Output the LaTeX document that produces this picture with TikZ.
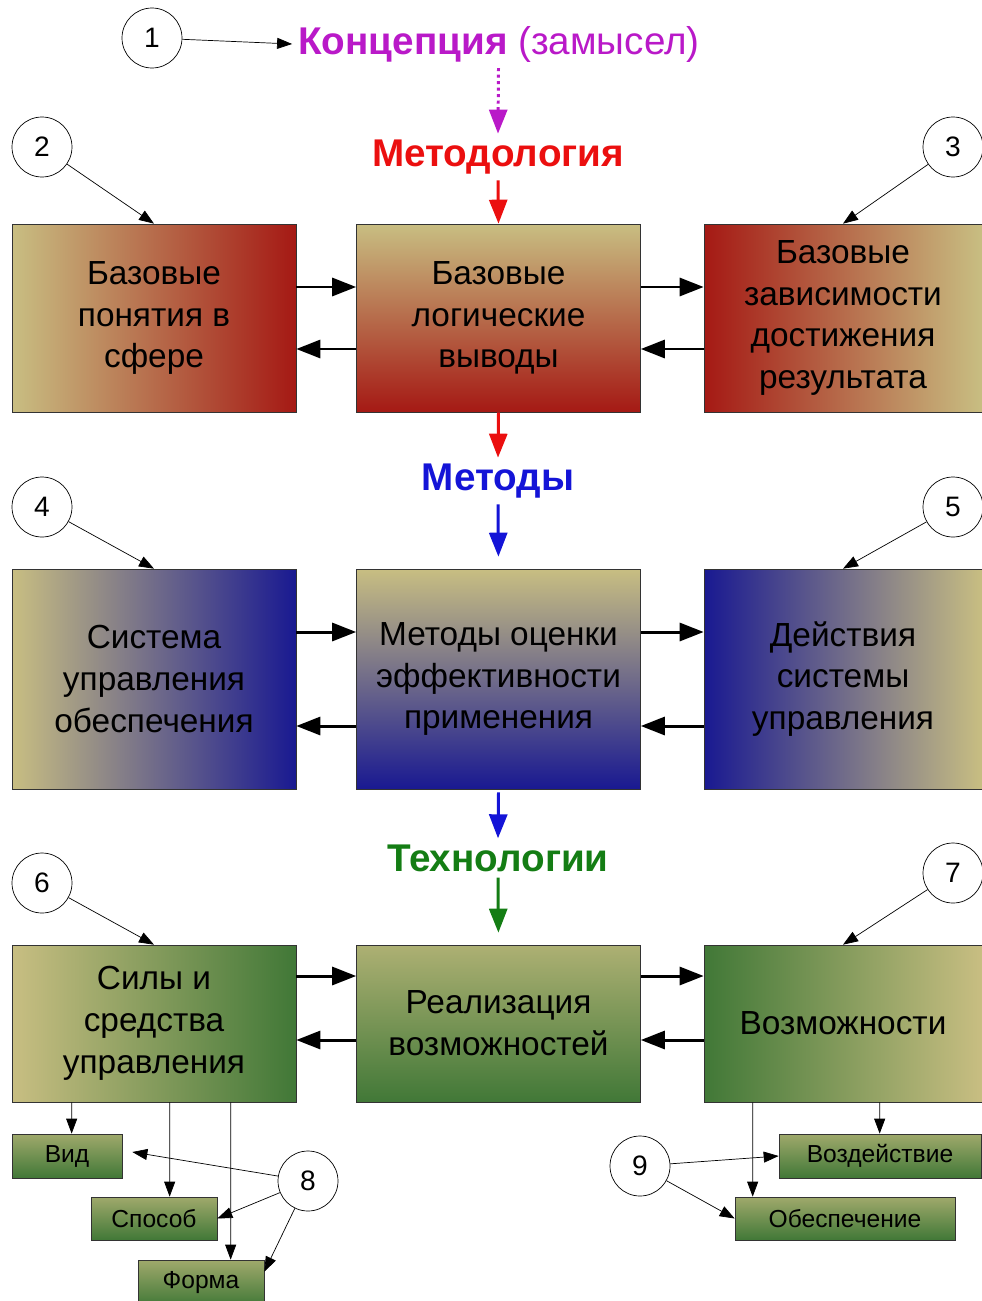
\documentclass[tikz,border=0pt]{standalone}
\usepackage{fontspec}
\setmainfont{Liberation Sans}
\usetikzlibrary{calc,arrows.meta}
\newcommand{\pixel}{0.02cm}
\definecolor{khaki}{RGB}{200,190,130}
\definecolor{boxred}{RGB}{165,25,20}
\definecolor{boxblue}{RGB}{25,25,145}
\definecolor{boxgreen}{RGB}{65,120,55}
\definecolor{conceptpurple}{RGB}{185,25,200}
\definecolor{methodred}{RGB}{235,15,15}
\definecolor{methodblue}{RGB}{20,20,215}
\definecolor{methodgreen}{RGB}{20,125,20}
\tikzset{
	block/.style={draw=black!80, thin, align=center, inner sep=0pt, font=\fontsize{19}{23.8}\selectfont},
	side/.style={block, minimum width=5.68cm},
	sideright/.style={block, minimum width=5.56cm},
	small/.style={draw=black!80, thin, inner sep=0pt, font=\fontsize{14}{14}\selectfont,
		top color=khaki!70!boxgreen, bottom color=boxgreen},
	heading/.style={font=\fontsize{22}{26}\selectfont\bfseries},
	num/.style={circle, draw, thin, minimum size=1.2cm, inner sep=0pt, font=\fontsize{16}{16}\selectfont},
	flow/.style={-{Triangle[length=0.48cm,width=0.36cm]}, line width=1.7pt},
	pointer/.style={-{Triangle[length=0.3cm,width=0.22cm]}, thin}
}

\begin{document}
\begin{tikzpicture}[x=\pixel,y=-\pixel]
	\useasboundingbox (0,0) rectangle (981,1301);

	\node[num] (n1) at (152,38) {1};
	\node[num] (n2) at (42,147) {2};
	\node[num] (n3) at (953,147) {3};
	\node[num] (n4) at (42,507) {4};
	\node[num] (n5) at (953,507) {5};
	\node[num] (n6) at (42,883) {6};
	\node[num] (n7) at (953,873) {7};
	\node[num] (n8) at (308,1181) {8};
	\node[num] (n9) at (640,1166) {9};

	\node[font=\fontsize{22}{26}\selectfont, text=conceptpurple] (concept) at (499,44) {\textbf{Концепция} (замысел)};
	\node[heading, text=methodred] (methodology) at (498,157) {Методология};
	\node[heading, text=methodblue] (methods) at (498,481) {Методы};
	\node[heading, text=methodgreen] (techno) at (498,858) {Технологии};

	\node[side, minimum height=3.76cm, left color=khaki, right color=boxred] (notions) at (154,318) {Базовые\\понятия в\\сфере};
	\node[side, minimum height=3.76cm, top color=khaki, bottom color=boxred] (logic) at (498.5,318) {Базовые\\логические\\выводы};
	\node[sideright, minimum height=3.76cm, left color=boxred, right color=khaki] (dependencies) at (843,318) {Базовые\\зависимости\\достижения\\результата};

	\node[side, minimum height=4.4cm, left color=khaki, right color=boxblue] (controlsys) at (154,679) {Система\\управления\\обеспечения};
	\node[side, minimum height=4.4cm, top color=khaki, bottom color=boxblue] (evaluation) at (498.5,679) {Методы оценки\\эффективности\\применения};
	\node[sideright, minimum height=4.4cm, left color=boxblue, right color=khaki] (actions) at (843,679) {Действия\\системы\\управления};

	\node[side, minimum height=3.14cm, left color=khaki, right color=boxgreen] (forces) at (154,1023.5) {Силы и\\средства\\управления};
	\node[side, minimum height=3.14cm, top color=khaki!80!boxgreen, bottom color=boxgreen] (realization) at (498.5,1023.5) {Реализация\\возможностей};
	\node[sideright, minimum height=3.14cm, left color=boxgreen, right color=khaki] (chances) at (843,1023.5) {Возможности};

	\node[small, minimum width=2.2cm, minimum height=0.88cm] (vid) at (67,1156) {Вид};
	\node[small, minimum width=2.52cm, minimum height=0.86cm] (way) at (154,1218.5) {Способ};
	\node[small, minimum width=2.52cm, minimum height=0.92cm] (form) at (201,1283) {Форма};
	\node[small, minimum width=4.04cm, minimum height=0.88cm] (impact) at (880,1156) {Воздействие};
	\node[small, minimum width=4.4cm, minimum height=0.86cm] (supply) at (845,1218.5) {Обеспечение};

	\draw[pointer] (n1) -- (concept.west);
	\draw[flow, conceptpurple, dotted] (concept.south -| logic.north) -- (methodology.north);
	\draw[flow, methodred] (methodology.south) -- (logic.north);
	\draw[flow, methodred] (logic.south) -- (methods.north);
	\draw[flow, methodblue, shorten >=12*\pixel] (methods.south) -- (evaluation.north);
	\draw[flow, methodblue] ($(evaluation.south)+(0,3)$) -- (techno.north);
	\draw[flow, methodgreen, shorten >=12*\pixel] (techno.south) -- (realization.north);

	\draw[flow] ($(notions.east)+(0,-31)$) -- ($(logic.west)+(0,-31)$);
	\draw[flow] ($(logic.west)+(0,31)$) -- ($(notions.east)+(0,31)$);
	\draw[flow] ($(logic.east)+(0,-31)$) -- ($(dependencies.west)+(0,-31)$);
	\draw[flow] ($(dependencies.west)+(0,31)$) -- ($(logic.east)+(0,31)$);

	\draw[flow] ($(controlsys.east)+(0,-47)$) -- ($(evaluation.west)+(0,-47)$);
	\draw[flow] ($(evaluation.west)+(0,47)$) -- ($(controlsys.east)+(0,47)$);
	\draw[flow] ($(evaluation.east)+(0,-47)$) -- ($(actions.west)+(0,-47)$);
	\draw[flow] ($(actions.west)+(0,47)$) -- ($(evaluation.east)+(0,47)$);

	\draw[flow] ($(forces.east)+(0,-47.5)$) -- ($(realization.west)+(0,-47.5)$);
	\draw[flow] ($(realization.west)+(0,16.5)$) -- ($(forces.east)+(0,16.5)$);
	\draw[flow] ($(realization.east)+(0,-47.5)$) -- ($(chances.west)+(0,-47.5)$);
	\draw[flow] ($(chances.west)+(0,16.5)$) -- ($(realization.east)+(0,16.5)$);

	\draw[pointer] (n2) -- (notions.north);
	\draw[pointer] (n3) -- (dependencies.north);
	\draw[pointer] (n4) -- (controlsys.north);
	\draw[pointer] (n5) -- (actions.north);
	\draw[pointer] (n6) -- (forces.north);
	\draw[pointer] (n7) -- (chances.north);

	\draw[pointer] ($(forces.south west)+(60,0)$) -- ($(vid.north west)+(60,0)$);
	\draw[pointer] ($(forces.south west)+(158,0)$) -- ($(way.north west)+(79,0)$);
	\draw[pointer] ($(forces.south west)+(219,0)$) -- ($(form.north west)+(93,0)$);
	\draw[pointer] ($(chances.south west)+(176,0)$) -- ($(impact.north west)+(101,0)$);
	\draw[pointer] ($(chances.south west)+(49,0)$) -- ($(supply.north west)+(18,0)$);

	\draw[pointer] (n8) -- ($(vid.east)+(10,-4)$);
	\draw[pointer] (n8) -- (way.east);
	\draw[pointer] (n8) -- ($(form.north east)+(0,12)$);
	\draw[pointer] (n9) -- (impact.west);
	\draw[pointer] (n9) -- (supply.west);
\end{tikzpicture}
\end{document}
